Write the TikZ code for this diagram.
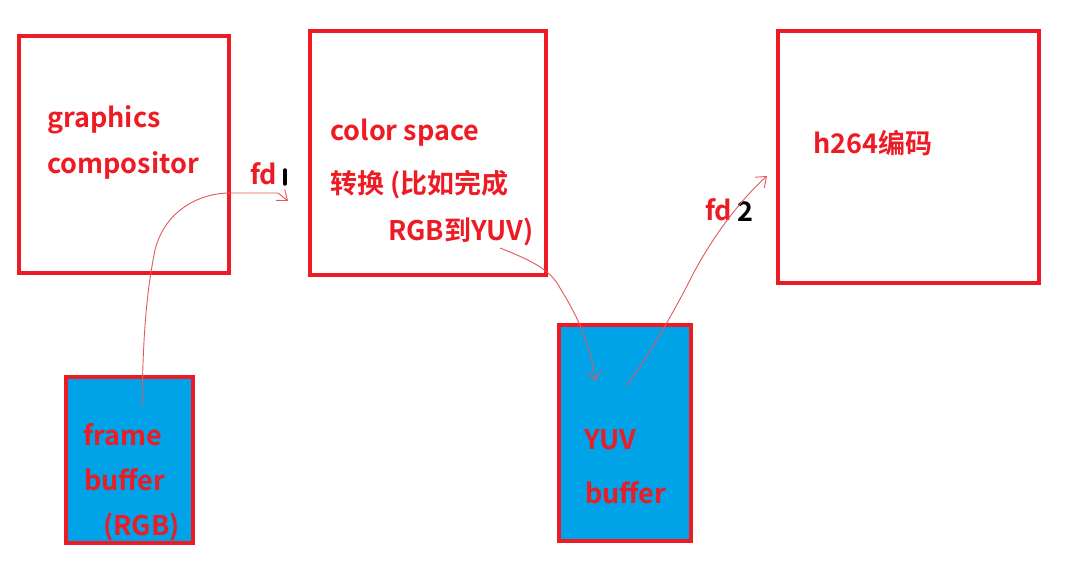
\documentclass[tikz,border=0pt]{standalone}
\usepackage{fontspec}
\setmainfont{Noto Sans CJK SC}[BoldFont={Noto Sans CJK SC Bold}]
\usetikzlibrary{arrows.meta}
\definecolor{pred}{HTML}{ED1C24}
\definecolor{pblue}{HTML}{00A2E8}
\definecolor{pen}{HTML}{E4575C}
\tikzset{
  box/.style={draw=pred, line width=4pt, inner sep=0pt},
  buf/.style={box, fill=pblue},
  txt/.style={anchor=west, inner sep=0pt, text=pred, font=\fontsize{27}{30}\selectfont\bfseries},
  pencil/.style={draw=pen, line width=0.9pt, -{Straight Barb[length=9pt, width=14pt, line width=0.9pt]}}
}
\begin{document}
\begin{tikzpicture}[x=1pt, y=-1pt]
  \useasboundingbox (0,0) rectangle (1080,575);

  \draw[box] (19,36) rectangle (229,273);
  \draw[box] (310,31) rectangle (546,275);
  \draw[box] (778,31) rectangle (1039,283);
  \draw[buf] (66,377) rectangle (193,543);
  \draw[buf] (559,325) rectangle (691,541);

  \node[txt] (gc1) at (47,120) {graphics};
  \node[txt] (gc2) at (47,165) {compositor};
  \node[txt] (cs1) at (330,133) {color space};
  \node[txt] (cs2) at (330,185) {转换 (比如完成};
  \node[txt] (cs3) at (388,232) {RGB到YUV)};
  \node[txt] (enc) at (813,143) {h264编码};
  \node[txt] (fb1) at (83,435) {frame};
  \node[txt] (fb2) at (84,480) {buffer};
  \node[txt] (fb3) at (103,527) {(RGB)};
  \node[txt] (yb1) at (584,440) {YUV};
  \node[txt] (yb2) at (585,493) {buffer};

  \node[txt] (fda) at (250,174) {fd};
  \draw[black, line width=3.5pt, line cap=round] (285,170) -- (285,184);
  \node[txt] (fdb) at (705,210) {fd};
  \node[txt, text=black] (two) at (737,212) {2};

  \coordinate (s1) at (142,407);
  \coordinate (e1) at (288,201);
  \coordinate (s2) at (500,248);
  \coordinate (e2) at (595,381);
  \coordinate (s3) at (626,386);
  \coordinate (e3) at (767,176);

  \draw[pencil] (s1) .. controls (143,330) and (147,290) .. (155,250)
    .. controls (165,210) and (200,193) .. (230,193) -- (278,193) -- (e1);
  \draw[pencil] (s2) .. controls (525,258) and (550,268) .. (560,288)
    .. controls (580,320) and (592,350) .. (e2);
  \draw[pencil] (s3) .. controls (650,355) and (680,300) .. (690,280)
    .. controls (710,240) and (740,200) .. (e3);
\end{tikzpicture}
\end{document}
